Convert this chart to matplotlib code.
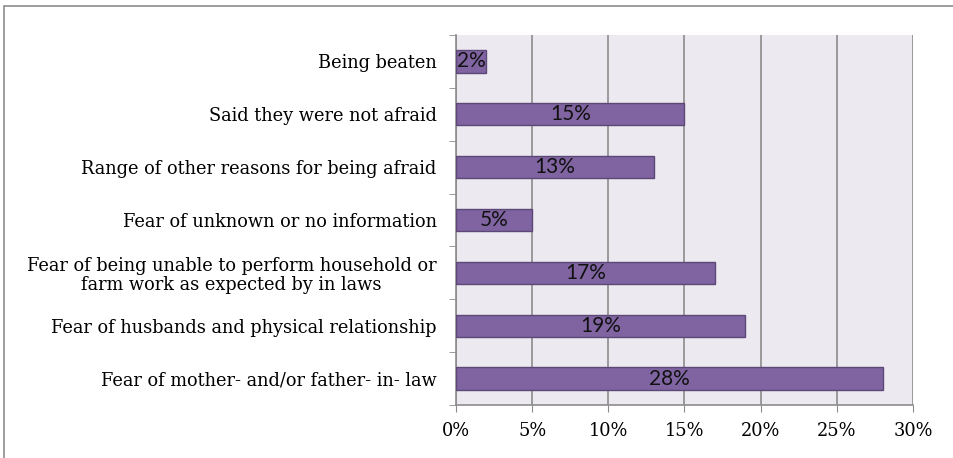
import matplotlib.pyplot as plt
import numpy as np
from matplotlib.patches import Rectangle

categories = [
    "Fear of mother- and/or father- in- law",
    "Fear of husbands and physical relationship",
    "Fear of being unable to perform household or\nfarm work as expected by in laws",
    "Fear of unknown or no information",
    "Range of other reasons for being afraid",
    "Said they were not afraid",
    "Being beaten",
]
values = [28, 19, 17, 5, 13, 15, 2]
xticks = [0, 5, 10, 15, 20, 25, 30]

fig = plt.figure(figsize=(9.54, 4.58), dpi=100)
ax = fig.add_axes([456 / 954, 1 - 405 / 458, (913 - 456) / 954, (405 - 35) / 458])

# outer chart border
fig.patches.append(Rectangle((4 / 954, -0.1), 1.1, 1 - 6 / 458 + 0.1,
                             transform=fig.transFigure, fill=False,
                             edgecolor="#8c8c8c", linewidth=1.2))

ax.set_facecolor("#ECEAF0")
y = np.arange(len(categories))
bars = ax.barh(y, values, height=0.42, color="#8064A2", edgecolor="#5C4776",
               linewidth=1, zorder=3)

for yi, v in zip(y, values):
    ax.text(v / 2, yi, f"{v}%", ha="center", va="center", fontsize=15,
            family="Lato", color="#111111", zorder=4)

ax.set_xlim(0, 30)
ax.set_ylim(-0.5, len(categories) - 0.5)
ax.set_xticks(xticks)
ax.set_xticklabels([f"{t}%" for t in xticks], family="DejaVu Serif", fontsize=12.8)
ax.set_yticks(y)
ax.set_yticklabels(categories, family="DejaVu Serif", fontsize=12.8)
ax.set_yticks(np.arange(-0.5, len(categories)), minor=True)
ax.tick_params(axis="y", which="major", length=0, pad=14)
ax.tick_params(axis="y", which="minor", length=5, color="#8c8c8c")
ax.tick_params(axis="x", length=5, color="#8c8c8c", pad=7)
for lbl in ax.get_yticklabels():
    lbl.set_multialignment("center")
    lbl.set_linespacing(1.05)

ax.grid(axis="x", color="#8c8c8c", linewidth=1.2, zorder=0)
ax.set_axisbelow(True)
for s in ["top", "right"]:
    ax.spines[s].set_visible(False)
for s in ["left", "bottom"]:
    ax.spines[s].set_color("#8c8c8c")
    ax.spines[s].set_linewidth(1.2)

fig.savefig("out.png", dpi=100)
